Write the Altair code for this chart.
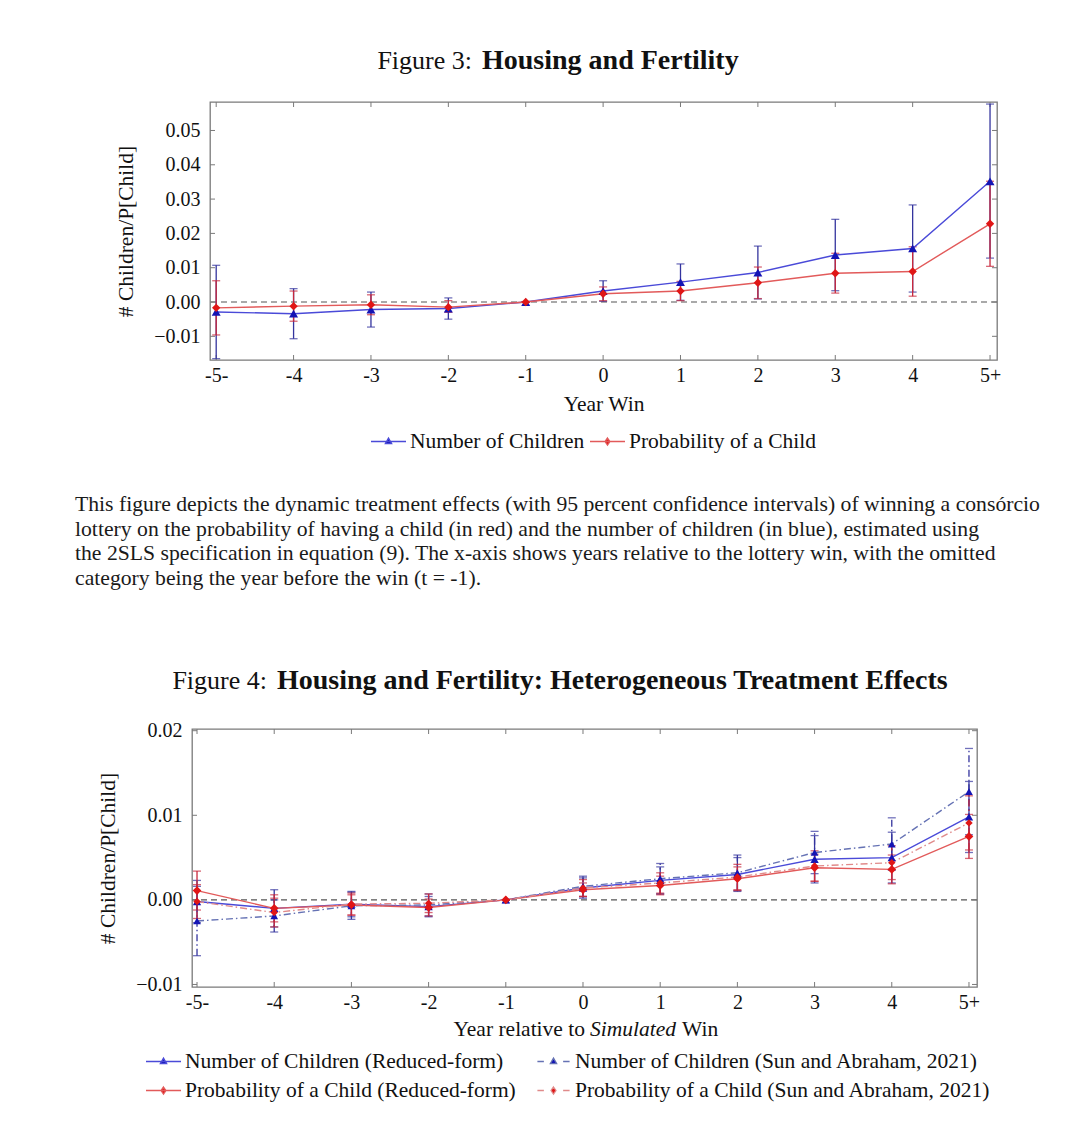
import altair as alt
import pandas as pd

FONT = "Liberation Serif"
INK = "#111111"

years = [-5, -4, -3, -2, -1, 0, 1, 2, 3, 4, 5]
year_labels = ["-5-", "-4", "-3", "-2", "-1", "0", "1", "2", "3", "4", "5+"]

# ---------------- Figure 3 data ----------------
f3_names = ["Number of Children", "Probability of a Child"]
f3_children_est = [-0.0029, -0.0034, -0.0022, -0.0019, 0.0, 0.0032, 0.0058, 0.0086, 0.0137, 0.0156, 0.0352]
f3_children_lo = [-0.0165, -0.0107, -0.0073, -0.0050, 0.0, 0.0002, 0.0005, 0.0009, 0.0033, 0.0029, 0.0128]
f3_children_hi = [0.0107, 0.0039, 0.0029, 0.0012, 0.0, 0.0062, 0.0111, 0.0163, 0.0241, 0.0283, 0.0577]
f3_prob_est = [-0.0017, -0.0012, -0.0008, -0.0015, 0.0, 0.0024, 0.0032, 0.0056, 0.0084, 0.0089, 0.0228]
f3_prob_lo = [-0.0096, -0.0056, -0.0037, -0.0030, 0.0, 0.0004, 0.0004, 0.0010, 0.0026, 0.0017, 0.0104]
f3_prob_hi = [0.0062, 0.0032, 0.0021, 0.0004, 0.0, 0.0044, 0.0060, 0.0102, 0.0142, 0.0161, 0.0352]
f3_yticks = [-0.01, 0.0, 0.01, 0.02, 0.03, 0.04, 0.05]

# ---------------- Figure 4 data ----------------
f4_names = [
    "Number of Children (Reduced-form)",
    "Number of Children (Sun and Abraham, 2021)",
    "Probability of a Child (Reduced-form)",
    "Probability of a Child (Sun and Abraham, 2021)",
]
f4_nc_rf_est = [-0.0002, -0.0010, -0.0005, -0.0008, 0.0, 0.0014, 0.0023, 0.0030, 0.0048, 0.0050, 0.0098]
f4_nc_rf_lo = [-0.0027, -0.0032, -0.0020, -0.0020, 0.0, 0.0002, 0.0007, 0.0010, 0.0020, 0.0020, 0.0056]
f4_nc_rf_hi = [0.0023, 0.0012, 0.0010, 0.0004, 0.0, 0.0026, 0.0039, 0.0050, 0.0076, 0.0080, 0.0140]
f4_nc_sa_est = [-0.0025, -0.0019, -0.0007, -0.0006, 0.0, 0.0016, 0.0025, 0.0032, 0.0056, 0.0066, 0.0128]
f4_nc_sa_lo = [-0.0066, -0.0038, -0.0023, -0.0019, 0.0, 0.0004, 0.0007, 0.0011, 0.0031, 0.0035, 0.0077]
f4_nc_sa_hi = [0.0016, 0.0000, 0.0009, 0.0007, 0.0, 0.0028, 0.0043, 0.0053, 0.0081, 0.0097, 0.0179]
f4_pc_rf_est = [0.0011, -0.0010, -0.0006, -0.0009, 0.0, 0.0012, 0.0017, 0.0025, 0.0038, 0.0036, 0.0075]
f4_pc_rf_lo = [-0.0012, -0.0026, -0.0018, -0.0019, 0.0, 0.0004, 0.0006, 0.0011, 0.0022, 0.0019, 0.0049]
f4_pc_rf_hi = [0.0034, 0.0006, 0.0006, 0.0001, 0.0, 0.0020, 0.0028, 0.0039, 0.0054, 0.0053, 0.0101]
f4_pc_sa_est = [-0.0002, -0.0015, -0.0005, -0.0004, 0.0, 0.0014, 0.0020, 0.0027, 0.0040, 0.0044, 0.0091]
f4_pc_sa_lo = [-0.0022, -0.0032, -0.0018, -0.0015, 0.0, 0.0004, 0.0008, 0.0012, 0.0022, 0.0024, 0.0059]
f4_pc_sa_hi = [0.0018, 0.0002, 0.0008, 0.0007, 0.0, 0.0024, 0.0032, 0.0042, 0.0058, 0.0064, 0.0123]
f4_yticks = [-0.01, 0.0, 0.01, 0.02]

# ---------------- Texts ----------------
y_title = "# Children/P[Child]"
f3_head = ["Figure 3:", "Housing and Fertility"]
f4_head = ["Figure 4:", "Housing and Fertility: Heterogeneous Treatment Effects"]
f3_xtitle = "Year Win"
f4_xtitle = ["Year relative to", "Simulated", "Win"]
caption = [
    "This figure depicts the dynamic treatment effects (with 95 percent confidence intervals) of winning a consórcio",
    "lottery on the probability of having a child (in red) and the number of children (in blue), estimated using",
    "the 2SLS specification in equation (9). The x-axis shows years relative to the lottery win, with the omitted",
    "category being the year before the win (t = -1).",
]

BLUE_LINE = "#4a4ad8"
BLUE_ERR = "#34349e"
BLUE_MARK = "#1414b4"
RED_LINE = "#e25a5a"
RED_ERR = "#c8283c"
RED_MARK = "#e01616"
BLUE_SA_LINE = "#6572b4"
RED_SA_LINE = "#e08a8a"
DASHDOT = [7, 3, 1.5, 3]
FRAME = "#7a7a7a"

TRI = "M0,-0.2L0.18,0.12L-0.18,0.12Z"
DIA = "M0,-0.2L0.14,0L0,0.2L-0.14,0Z"
SOLID = "M-1,0H1"
DDASH = "M-0.92,0H-0.55M0.55,0H0.92"


def long_df(names, series):
    rows = []
    for name, (est, lo, hi) in zip(names, series):
        for yr, e, l, h in zip(years, est, lo, hi):
            rows.append({"series": name, "year": yr, "est": e, "lo": l, "hi": h})
    return pd.DataFrame(rows)


df3 = long_df(f3_names, [(f3_children_est, f3_children_lo, f3_children_hi),
                         (f3_prob_est, f3_prob_lo, f3_prob_hi)])
df4 = long_df(f4_names, [(f4_nc_rf_est, f4_nc_rf_lo, f4_nc_rf_hi),
                         (f4_nc_sa_est, f4_nc_sa_lo, f4_nc_sa_hi),
                         (f4_pc_rf_est, f4_pc_rf_lo, f4_pc_rf_hi),
                         (f4_pc_sa_est, f4_pc_sa_lo, f4_pc_sa_hi)])

label_list = "[" + ",".join("'" + s + "'" for s in year_labels) + "]"
x_label_expr = label_list + "[datum.value + 5]"
y_label_expr = "replace(format(datum.value, '.2f'), '-', '\u2212')"


def make_axes(xdomain, ydomain, yticks, xtitle):
    xaxis = alt.Axis(values=years, labelExpr=x_label_expr, grid=False, ticks=False, domain=False,
                     labelFont=FONT, labelFontSize=20, labelColor=INK, labelPadding=5,
                     title=xtitle, titleFont=FONT, titleFontSize=21.5, titleFontWeight="normal",
                     titleColor=INK, titlePadding=8)
    yaxis = alt.Axis(values=yticks, labelExpr=y_label_expr, grid=False, ticks=False, domain=False,
                     labelFont=FONT, labelFontSize=20, labelColor=INK, labelPadding=10,
                     title=y_title, titleFont=FONT, titleFontSize=21.5, titleFontWeight="normal",
                     titleColor=INK, titlePadding=16)
    xs = alt.Scale(domain=xdomain, nice=False, zero=False)
    ys = alt.Scale(domain=ydomain, nice=False, zero=False)

    def X(field="year"):
        return alt.X(field + ":Q", scale=xs, axis=xaxis)

    def Y(field):
        return alt.Y(field + ":Q", scale=ys, axis=yaxis)

    return X, Y


def frame_ticks(X, Y, yticks, w, h):
    """Small inward ticks on all four sides of the frame, as in pgfplots."""
    xt = pd.DataFrame({"year": years})
    yt = pd.DataFrame({"v": yticks})
    kw = dict(color=FRAME, strokeWidth=1)
    return [
        alt.Chart(xt).mark_rule(**kw).encode(x=X(), y=alt.value(h), y2=alt.value(h - 5)),
        alt.Chart(xt).mark_rule(**kw).encode(x=X(), y=alt.value(0), y2=alt.value(5)),
        alt.Chart(yt).mark_rule(**kw).encode(y=Y("v"), x=alt.value(0), x2=alt.value(5)),
        alt.Chart(yt).mark_rule(**kw).encode(y=Y("v"), x=alt.value(w), x2=alt.value(w - 5)),
    ]


def series_layers(df, name, X, Y, line_color, err_color, mark_color, shape, msize, dash=None):
    base = alt.Chart(df).transform_filter(alt.datum.series == name)
    dkw = {"strokeDash": dash} if dash else {}
    errs = [
        base.mark_rule(color=err_color, strokeWidth=1.3, **dkw).encode(x=X(), y=Y("lo"), y2=alt.Y2("hi")),
        base.mark_tick(color=err_color, orient="horizontal", size=8, thickness=1.3).encode(x=X(), y=Y("lo")),
        base.mark_tick(color=err_color, orient="horizontal", size=8, thickness=1.3).encode(x=X(), y=Y("hi")),
    ]
    line = base.mark_line(color=line_color, strokeWidth=1.4, **dkw).encode(x=X(), y=Y("est"))
    pts = base.mark_point(shape=shape, filled=True, color=mark_color, size=msize, opacity=1).encode(
        x=X(), y=Y("est"))
    return errs, line, pts


def text_layer(t, x, y, size, weight="normal", style="normal", align="left", color=INK):
    return alt.Chart(pd.DataFrame({"t": [t]})).mark_text(
        font=FONT, fontSize=size, fontWeight=weight, fontStyle=style, align=align,
        baseline="alphabetic", color=color).encode(x=alt.value(x), y=alt.value(y), text="t:N")


def zero_layer(Y):
    return alt.Chart(pd.DataFrame({"v": [0.0]})).mark_rule(
        color="#555555", strokeWidth=1.2, strokeDash=[6, 4]).encode(y=Y("v"))


def legend(x, y, columns, colpad, rowpad):
    return alt.Legend(title=None, orient="none", legendX=x, legendY=y, direction="horizontal",
                      columns=columns, labelFont=FONT, labelFontSize=21.5, labelColor=INK,
                      labelOffset=3, labelLimit=600, symbolSize=1225, symbolStrokeWidth=1.3,
                      symbolOpacity=1, columnPadding=colpad, rowPadding=rowpad, padding=0)


# ---------------- Figure 3 ----------------
W3, H3 = 787, 258
X3, Y3 = make_axes([-5.08, 5.09], [-0.0169, 0.0583], f3_yticks, f3_xtitle)
b_err, b_line, b_pts = series_layers(df3, f3_names[0], X3, Y3, BLUE_LINE, BLUE_ERR, BLUE_MARK, "triangle-up", 80)
r_err, r_line, r_pts = series_layers(df3, f3_names[1], X3, Y3, RED_LINE, RED_ERR, RED_MARK, "diamond", 70)

leg3 = legend(160, 321, 2, 2, 7)
legend3 = alt.Chart(df3).mark_point(opacity=0).encode(
    x=X3(), y=Y3("est"),
    fill=alt.Fill("series:N", scale=alt.Scale(domain=f3_names, range=[BLUE_MARK, RED_MARK]), legend=leg3),
    stroke=alt.Stroke("series:N", scale=alt.Scale(domain=f3_names, range=[BLUE_LINE, RED_LINE]), legend=leg3),
    shape=alt.Shape("series:N", scale=alt.Scale(domain=f3_names, range=[SOLID + TRI, SOLID + DIA]), legend=leg3),
)

texts3 = [
    text_layer(f3_head[0], 262, -33, 26, align="right"),
    text_layer(f3_head[1], 272, -33, 28, weight="bold"),
] + [text_layer(line, -135, 409 + 24.7 * i, 21.7, color="#1a1a1a") for i, line in enumerate(caption)]

fig3 = alt.layer(
    zero_layer(Y3), *frame_ticks(X3, Y3, f3_yticks, W3, H3), *b_err, *r_err,
    b_line, r_line, b_pts, r_pts, legend3, *texts3
).properties(width=W3, height=H3)

# ---------------- Figure 4 ----------------
W4, H4 = 785, 258
X4, Y4 = make_axes([-5.065, 5.104], [-0.0103, 0.0202], f4_yticks, "")
specs4 = [
    (f4_names[0], BLUE_LINE, BLUE_ERR, BLUE_MARK, "triangle-up", 70, None),
    (f4_names[1], BLUE_SA_LINE, BLUE_ERR, BLUE_MARK, "triangle-up", 60, DASHDOT),
    (f4_names[2], RED_LINE, RED_ERR, RED_MARK, "diamond", 75, None),
    (f4_names[3], RED_SA_LINE, RED_ERR, RED_MARK, "diamond", 55, DASHDOT),
]
errs4, lines4, pts4 = [], [], []
for nm, lc, ec, mc, sh, ms, dd in specs4:
    e, l, p = series_layers(df4, nm, X4, Y4, lc, ec, mc, sh, ms, dd)
    errs4 += e
    lines4.append(l)
    pts4.append(p)

leg4 = legend(-47, 314, 2, 18, -1)
legend4 = alt.Chart(df4).mark_point(opacity=0).encode(
    x=X4(), y=Y4("est"),
    fill=alt.Fill("series:N", scale=alt.Scale(domain=f4_names,
                                              range=[BLUE_MARK, BLUE_MARK, RED_MARK, RED_MARK]), legend=leg4),
    stroke=alt.Stroke("series:N", scale=alt.Scale(domain=f4_names,
                                                  range=[BLUE_LINE, BLUE_SA_LINE, RED_LINE, RED_SA_LINE]),
                      legend=leg4),
    shape=alt.Shape("series:N", scale=alt.Scale(domain=f4_names,
                                                range=[SOLID + TRI, DDASH + TRI, SOLID + DIA, DDASH + DIA]),
                    legend=leg4),
)

texts4 = [
    text_layer(f4_head[0], 75, -40, 26, align="right"),
    text_layer(f4_head[1], 85, -40, 28, weight="bold"),
    text_layer(f4_xtitle[0], 393, 307, 21.5, align="right"),
    text_layer(f4_xtitle[1], 441, 307, 21.5, style="italic", align="center"),
    text_layer(f4_xtitle[2], 490, 307, 21.5),
]

fig4 = alt.layer(
    zero_layer(Y4), *frame_ticks(X4, Y4, f4_yticks, W4, H4), *errs4, *lines4, *pts4, legend4, *texts4
).properties(width=W4, height=H4)


def spacer(w):
    return alt.Chart(pd.DataFrame({"s": [0]})).mark_point(opacity=0).encode(
        x=alt.value(0), y=alt.value(0)).properties(width=w, height=1,
                                                   view=alt.ViewBackground(stroke="transparent"))


def wrap(w, fig):
    return alt.hconcat(spacer(w), fig, spacing=0).resolve_scale(
        fill="independent", stroke="independent", shape="independent"
    ).resolve_legend(fill="independent", stroke="independent", shape="independent")


wrap3 = wrap(1, fig3)
wrap4 = wrap(26, fig4)

chart = alt.vconcat(wrap3, wrap4, spacing=75).resolve_scale(
    fill="independent", stroke="independent", shape="independent"
).resolve_legend(
    fill="independent", stroke="independent", shape="independent"
).properties(
    padding={"left": 58, "top": 38, "right": 5, "bottom": 5}
).configure(font=FONT).configure_view(stroke=FRAME, strokeWidth=1.3)

chart.save("out.html", embed_options={"renderer": "svg", "actions": False})
